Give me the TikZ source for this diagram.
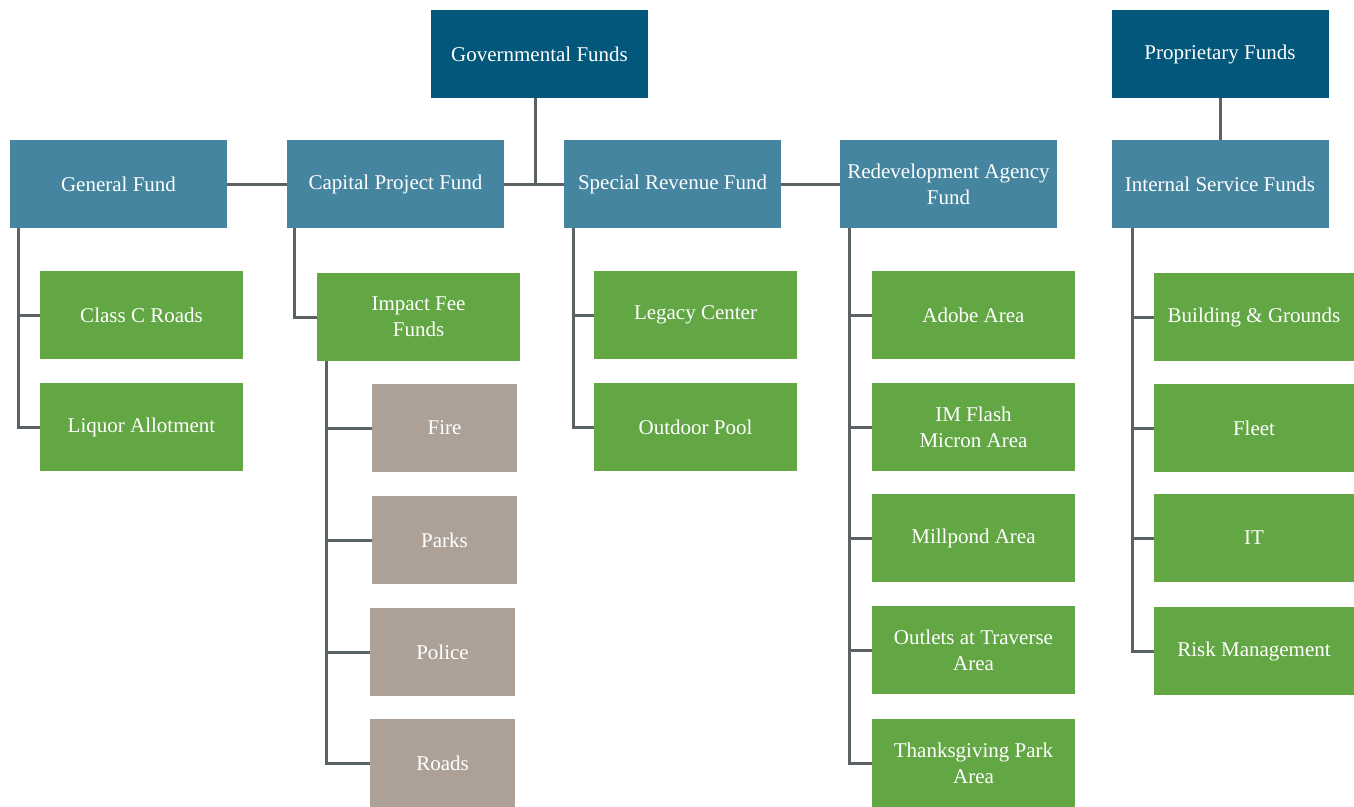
\documentclass[tikz,border=0pt]{standalone}
\usepackage{fontspec}
\setmainfont{Liberation Serif}
\usepackage{tikz}
\usetikzlibrary{positioning}
\usepackage{xcolor}
\definecolor{topblue}{HTML}{02577A}
\definecolor{midblue}{HTML}{4585A0}
\definecolor{leafgreen}{HTML}{62A744}
\definecolor{taupe}{HTML}{ADA197}
\definecolor{linegray}{HTML}{5B6266}
\tikzset{fundbox/.style={rectangle, minimum width=217pt, minimum height=88pt, inner sep=0pt,
           align=center, text=white, font=\fontsize{21}{26}\selectfont},
         topfund/.style={fundbox, fill=topblue},
         midfund/.style={fundbox, fill=midblue},
         subfund/.style={fundbox, fill=leafgreen, minimum width=203pt},
         feefund/.style={fundbox, fill=taupe, minimum width=145pt},
         link/.style={draw=linegray, line width=3pt}}

\begin{document}
\begin{tikzpicture}[x=1pt, y=-1pt]
        \useasboundingbox (0,0) rectangle (1354,806);
        % Nodes
        \node[topfund] (gov) at (539.5,54) {Governmental Funds};
        \node[topfund] (prop) at (1220,54) {Proprietary Funds};

        \node[midfund] (gen) at (118.5,184) {General Fund};
        \node[midfund] (cap) at (395.5,184) {Capital Project Fund};
        \node[midfund] (spec) at (672.5,184) {Special Revenue Fund};
        \node[midfund] (rda) at (948.5,184) {Redevelopment Agency\\Fund};
        \node[midfund] (isf) at (1220,184) {Internal Service Funds};

        \node[subfund] (roads) at (141.5,315) {Class C Roads};
        \node[subfund] (liquor) at (141.5,427) {Liquor Allotment};

        \node[subfund] (impact) at (418.5,317) {Impact Fee\\Funds};
        \node[feefund] (fire) at (444.5,428) {Fire};
        \node[feefund] (parks) at (444.5,540) {Parks};
        \node[feefund] (police) at (442.5,652) {Police};
        \node[feefund] (froads) at (442.5,763) {Roads};

        \node[subfund] (legacy) at (695.5,315) {Legacy Center};
        \node[subfund] (pool) at (695.5,427) {Outdoor Pool};

        \node[subfund] (adobe) at (973.5,315) {Adobe Area};
        \node[subfund] (flash) at (973.5,427) {IM Flash\\Micron Area};
        \node[subfund] (mill) at (973.5,538) {Millpond Area};
        \node[subfund] (outlets) at (973.5,650) {Outlets at Traverse\\Area};
        \node[subfund] (thanks) at (973.5,763) {Thanksgiving Park\\Area};

        \node[subfund, minimum width=200pt] (bldg) at (1254,317) {Building \& Grounds};
        \node[subfund, minimum width=200pt] (fleet) at (1254,428) {Fleet};
        \node[subfund, minimum width=200pt] (it) at (1254,538) {IT};
        \node[subfund, minimum width=200pt] (risk) at (1254,651) {Risk Management};

        % Edges
        \draw[link] (gen) -- (cap);
        \draw[link] (cap) -- (spec);
        \draw[link] (spec) -- (rda);
        \draw[link] ([xshift=-4.5pt]gov.south) -- ([xshift=-4.5pt]gov.south |- cap.east);
        \draw[link] (prop) -- (isf);

        \draw[link] ([xshift=9pt]gen.south west) |- (roads.west);
        \draw[link] ([xshift=9pt]gen.south west) |- (liquor.west);

        \draw[link] ([xshift=8pt]cap.south west) |- (impact.west);
        \draw[link] ([xshift=10pt]impact.south west) |- (fire.west);
        \draw[link] ([xshift=10pt]impact.south west) |- (parks.west);
        \draw[link] ([xshift=10pt]impact.south west) |- (police.west);
        \draw[link] ([xshift=10pt]impact.south west) |- (froads.west);

        \draw[link] ([xshift=10pt]spec.south west) |- (legacy.west);
        \draw[link] ([xshift=10pt]spec.south west) |- (pool.west);

        \draw[link] ([xshift=10pt]rda.south west) |- (adobe.west);
        \draw[link] ([xshift=10pt]rda.south west) |- (flash.west);
        \draw[link] ([xshift=10pt]rda.south west) |- (mill.west);
        \draw[link] ([xshift=10pt]rda.south west) |- (outlets.west);
        \draw[link] ([xshift=10pt]rda.south west) |- (thanks.west);

        \draw[link] ([xshift=21pt]isf.south west) |- (bldg.west);
        \draw[link] ([xshift=21pt]isf.south west) |- (fleet.west);
        \draw[link] ([xshift=21pt]isf.south west) |- (it.west);
        \draw[link] ([xshift=21pt]isf.south west) |- (risk.west);
    \end{tikzpicture}
\end{document}
